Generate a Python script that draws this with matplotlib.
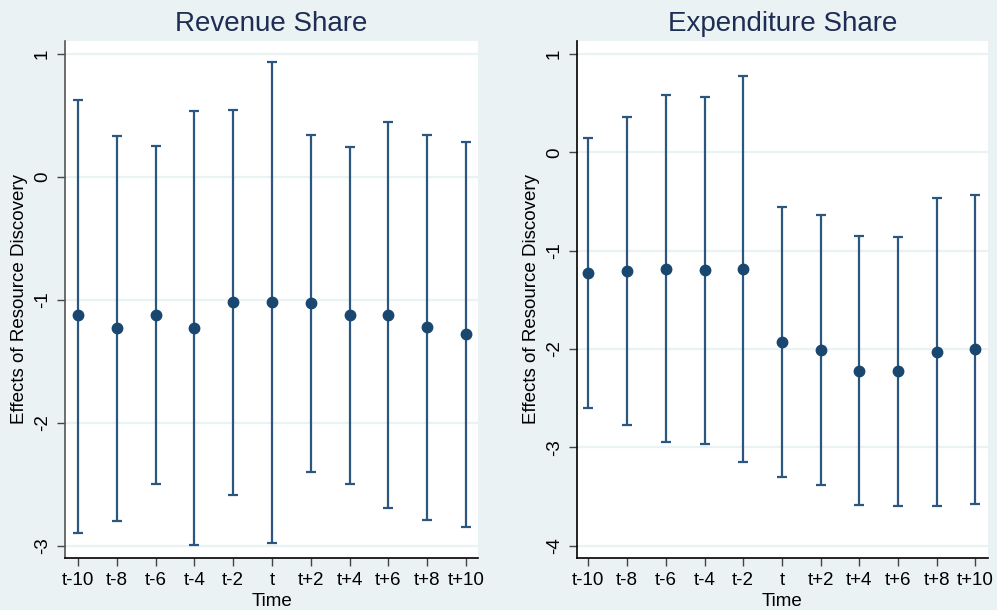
import matplotlib
matplotlib.use("Agg")
import matplotlib.pyplot as plt

plt.rcParams['font.family'] = ['Liberation Sans', 'DejaVu Sans']

time_labels = ["t-10", "t-8", "t-6", "t-4", "t-2", "t", "t+2", "t+4", "t+6", "t+8", "t+10"]
time_values = [-10, -8, -6, -4, -2, 0, 2, 4, 6, 8, 10]

rev_coef = [-1.125, -1.228, -1.12, -1.228, -1.02, -1.02, -1.025, -1.12, -1.12, -1.22, -1.277]
rev_hi = [0.63, 0.337, 0.25, 0.536, 0.55, 0.94, 0.343, 0.245, 0.446, 0.346, 0.29]
rev_lo = [-2.897, -2.797, -2.495, -2.997, -2.587, -2.98, -2.40, -2.495, -2.69, -2.79, -2.85]

exp_coef = [-1.23, -1.203, -1.187, -1.20, -1.185, -1.929, -2.007, -2.221, -2.228, -2.027, -2.004]
exp_hi = [0.143, 0.356, 0.58, 0.567, 0.773, -0.552, -0.637, -0.847, -0.858, -0.461, -0.437]
exp_lo = [-2.60, -2.777, -2.95, -2.963, -3.147, -3.306, -3.38, -3.59, -3.60, -3.593, -3.573]

rev_yticks = [1, 0, -1, -2, -3]
exp_yticks = [1, 0, -1, -2, -3, -4]

BG = "#EAF2F3"
NAVY = "#1A476F"
BAR = "#2A5680"
TITLE = "#1E2D53"

fig = plt.figure(figsize=(9.97, 6.10), dpi=100, facecolor=BG)

W, H = 997, 610
def rect(x0, x1, y0, y1):
    return [x0 / W, 1 - y1 / H, (x1 - x0) / W, (y1 - y0) / H]

ax1 = fig.add_axes(rect(65, 478, 41, 558))
ax2 = fig.add_axes(rect(577, 988, 41, 558))

panels = [
    (ax1, "Revenue Share", rev_coef, rev_lo, rev_hi, rev_yticks, (-3.10, 1.108), (-10.67, 10.62), "#555555"),
    (ax2, "Expenditure Share", exp_coef, exp_lo, exp_hi, exp_yticks, (-4.125, 1.132), (-10.59, 10.65), "#000000"),
]

for ax, title, coef, lo, hi, yticks, ylim, xlim, lcol in panels:
    ax.set_facecolor("white")
    yerr = [[c - l for c, l in zip(coef, lo)], [h - c for c, h in zip(coef, hi)]]
    ax.errorbar(time_values, coef, yerr=yerr, fmt='none', ecolor=BAR,
                elinewidth=1.6, capsize=3.7, capthick=1.6, zorder=3)
    ax.plot(time_values, coef, 'o', color=NAVY, markersize=7.5, zorder=4)
    ax.set_xlim(*xlim)
    ax.set_ylim(*ylim)
    ax.set_xticks(time_values)
    ax.set_xticklabels(time_labels)
    ax.set_yticks(yticks)
    ax.set_yticklabels(["%d" % v for v in yticks], rotation=90, va='center')
    for v in yticks:
        ax.axhline(v, color=BG, linewidth=1.6, zorder=1)
    for s in ["top", "right"]:
        ax.spines[s].set_visible(False)
    ax.spines["left"].set_color(lcol)
    ax.spines["bottom"].set_color("black")
    ax.spines["left"].set_linewidth(1.2)
    ax.spines["bottom"].set_linewidth(1.2)
    ax.tick_params(axis='both', direction='out', length=6, width=1.0,
                   color="#444444", labelsize=13.5, labelcolor='black')
    ax.tick_params(axis='x', pad=4)
    ax.tick_params(axis='y', pad=4)
    ax.set_title(title, fontsize=20, color=TITLE, pad=7)
    ax.set_xlabel("Time", fontsize=13.5, color='black')
    ax.xaxis.set_label_coords(0.5, -0.067)
    ax.set_ylabel("Effects of Resource Discovery", fontsize=13.5, color='black')
    ax.yaxis.set_label_coords(-0.0896, 0.5)

fig.savefig("out.png", dpi=100, facecolor=BG)
